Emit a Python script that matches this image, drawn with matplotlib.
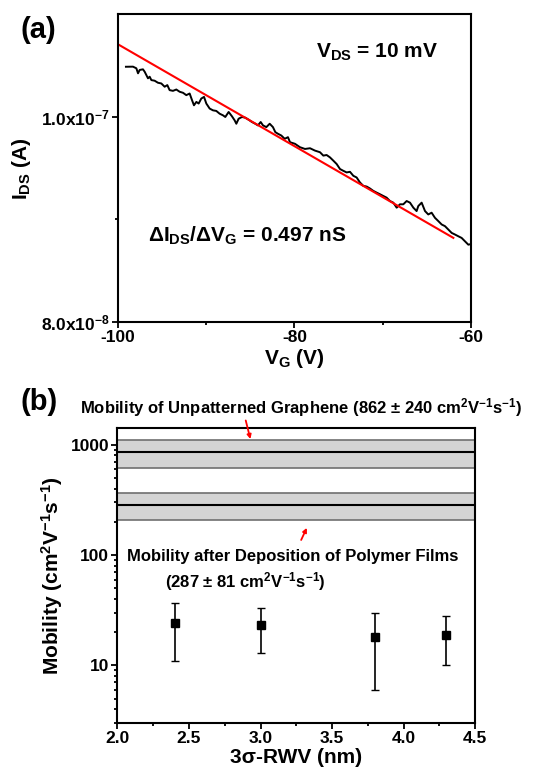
import matplotlib
matplotlib.use("Agg")
import matplotlib.pyplot as plt
import numpy as np
from matplotlib.ticker import FixedLocator, MultipleLocator, FuncFormatter, LogLocator, NullFormatter

plt.rcParams['font.family'] = ['Liberation Sans', 'DejaVu Sans']
plt.rcParams['font.weight'] = 'bold'
plt.rcParams['axes.labelweight'] = 'bold'
plt.rcParams['axes.unicode_minus'] = False
plt.rcParams['mathtext.fontset'] = 'custom'
plt.rcParams['mathtext.rm'] = 'Liberation Sans:bold'
plt.rcParams['mathtext.bf'] = 'Liberation Sans:bold'
plt.rcParams['mathtext.it'] = 'Liberation Sans:bold'
plt.rcParams['mathtext.sf'] = 'Liberation Sans:bold'
plt.rcParams['mathtext.default'] = 'bf'

# (a) transfer curve, I_DS in units of 1e-8 A
vg = [-99.10, -98.30, -97.92, -97.73, -97.54, -97.17, -96.98, -96.60, -96.41, -96.22,
      -95.85, -95.47, -95.09, -94.71, -94.41, -94.15, -93.77, -93.39, -93.01, -92.63,
      -92.26, -91.88, -91.61, -91.39, -91.12, -90.86, -90.56, -90.25, -89.99, -89.61,
      -89.24, -88.86, -88.48, -88.10, -87.84, -87.46, -87.08, -86.78, -86.59, -86.33,
      -85.95, -85.57, -85.19, -84.82, -84.44, -84.14, -83.83, -83.57, -83.19, -82.81,
      -82.44, -82.17, -81.87, -81.49, -81.11, -80.74,
      -80.51, -79.94, -79.38, -78.81, -78.24, -77.68, -77.11, -76.73, -76.36, -75.98,
      -75.60, -75.22, -74.84, -74.47, -74.09, -73.71, -73.33, -72.96, -72.58, -72.20,
      -71.82, -71.44, -71.07, -70.69, -70.31, -69.93, -69.56, -69.18, -68.80, -68.42,
      -68.05, -67.67, -67.29, -66.91, -66.53, -66.16, -65.97, -65.59, -65.21, -64.84,
      -64.46, -64.08, -63.70, -63.32, -62.95, -62.57, -62.19, -61.81, -61.43, -61.06,
      -60.68, -60.30, -60.00]
ids = [10.490, 10.491, 10.475, 10.426, 10.459, 10.465, 10.442, 10.377, 10.393, 10.360,
       10.354, 10.334, 10.327, 10.295, 10.311, 10.262, 10.255, 10.268, 10.246, 10.236,
       10.213, 10.229, 10.164, 10.114, 10.147, 10.131, 10.180, 10.196, 10.131, 10.082,
       10.065, 10.059, 10.032, 10.016, 10.000, 10.049, 10.006, 9.967, 9.934, 9.983,
       10.000, 9.993, 9.973, 9.951, 9.934, 9.918, 9.951, 9.918, 9.901, 9.934,
       9.901, 9.852, 9.836, 9.819, 9.787, 9.803,
       9.754, 9.738, 9.705, 9.688, 9.695, 9.672, 9.656, 9.623, 9.629, 9.606,
       9.574, 9.541, 9.492, 9.475, 9.459, 9.465, 9.426, 9.410, 9.361, 9.328,
       9.321, 9.302, 9.279, 9.262, 9.246, 9.229, 9.213, 9.180, 9.164, 9.115,
       9.148, 9.148, 9.180, 9.164, 9.115, 9.082, 9.131, 9.164, 9.082, 9.049,
       9.066, 9.016, 8.984, 8.951, 8.935, 8.902, 8.869, 8.853, 8.836, 8.820,
       8.787, 8.754, 8.760]
slope_ns = 0.497          # dI/dV in nS
fit_vg = [-100.0, -62.0]
fit_anchor = (-80.5, 9.74)   # (V, 1e-8 A)

# (b) mobility vs roughness
rwv = [2.4, 3.0, 3.8, 4.3]
mob = [24, 23, 18, 19]
mob_err = [13, 10, 12, 9]
unpat_mean, unpat_err = 862, 240
poly_mean, poly_err = 287, 81

fig = plt.figure(figsize=(5.46, 7.79), dpi=100)
ax1 = fig.add_axes([0.2161, 0.5867, 0.6465, 0.3947])
ax2 = fig.add_axes([0.2152, 0.0719, 0.6548, 0.3787])

for ax in (ax1, ax2):
    for s in ax.spines.values():
        s.set_linewidth(1.5)
    ax.tick_params(which='both', direction='out', top=False, right=False, width=1.3,
                   labelsize=12.5)
    ax.tick_params(which='major', length=4, pad=2)
    ax.tick_params(which='minor', length=2.5)

# ---- panel (a)
ax1.plot(np.array(vg), np.array(ids) * 1e-8, color='black', lw=1.4)
fv = np.array(fit_vg)
fi = (fit_anchor[1] * 1e-8) - slope_ns * 1e-9 * (fv - fit_anchor[0])
ax1.plot(fv, fi, color='red', lw=1.5)
ax1.set_xlim(-100, -60)
ax1.set_ylim(8e-8, 1.1e-7)
ax1.xaxis.set_major_locator(MultipleLocator(20))
ax1.xaxis.set_minor_locator(MultipleLocator(10))
ax1.yaxis.set_major_locator(FixedLocator([8e-8, 1e-7]))
ax1.yaxis.set_minor_locator(FixedLocator([9e-8]))


def sci(v, pos):
    e = int(np.floor(np.log10(v)))
    m = v / 10 ** e
    return r'%.1fx10$^{%d}$' % (m, e)


ax1.yaxis.set_major_formatter(FuncFormatter(sci))
ax1.set_xlabel(r'V$_G$ (V)', fontsize=15, labelpad=1)
ax1.set_ylabel(r'I$_{DS}$ (A)', fontsize=15, labelpad=6)
ax1.text(0.56, 0.86, r'V$_{DS}$ = 10 mV', transform=ax1.transAxes, fontsize=15)
ax1.text(0.085, 0.26, r'ΔI$_{DS}$/ΔV$_G$ = %.3f nS' % slope_ns, transform=ax1.transAxes,
         fontsize=15)
fig.text(20 / 546, 1 - 30 / 779, '(a)', fontsize=21, va='center')

# ---- panel (b)
ax2.set_yscale('log')
ax2.set_xlim(2.0, 4.5)
ax2.set_ylim(3, 1420)
for m, e in ((unpat_mean, unpat_err), (poly_mean, poly_err)):
    ax2.axhspan(m - e, m + e, facecolor='#d4d4d4', edgecolor='#707070', lw=1.2)
    ax2.axhline(m, color='black', lw=1.5)
ax2.errorbar(rwv, mob, yerr=mob_err, fmt='s', color='black', ms=6, capsize=3,
             elinewidth=1.2, capthick=1.0)
ax2.xaxis.set_major_locator(MultipleLocator(0.5))
ax2.xaxis.set_minor_locator(MultipleLocator(0.25))
ax2.xaxis.set_major_formatter(FuncFormatter(lambda v, p: '%.1f' % v))
ax2.yaxis.set_major_locator(FixedLocator([10, 100, 1000]))
ax2.yaxis.set_major_formatter(FuncFormatter(lambda v, p: '%d' % v))
ax2.yaxis.set_minor_locator(LogLocator(base=10, subs=np.arange(2, 10)))
ax2.yaxis.set_minor_formatter(NullFormatter())
ax2.set_xlabel('3σ-RWV (nm)', fontsize=15, labelpad=1)
ax2.set_ylabel(r'Mobility (cm$^2$V$^{-1}$s$^{-1}$)', fontsize=15, labelpad=4)

ax2.annotate('', xy=(2.934, 1065), xytext=(2.892, 1758), annotation_clip=False,
             arrowprops=dict(arrowstyle='-|>', color='red', lw=1.3, mutation_scale=6))
ax2.annotate('', xy=(3.332, 186), xytext=(3.276, 130), annotation_clip=False,
             arrowprops=dict(arrowstyle='-|>', color='red', lw=1.3, mutation_scale=6))

fig.text(80 / 546, 1 - 408 / 779,
         r'Mobility of Unpatterned Graphene (%d ± %d cm$^2$V$^{-1}$s$^{-1}$)'
         % (unpat_mean, unpat_err), fontsize=12, va='center')
fig.text(127 / 546, 1 - 556 / 779, 'Mobility after Deposition of Polymer Films',
         fontsize=12, va='center')
fig.text(165 / 546, 1 - 582 / 779,
         r'(%d ± %d cm$^2$V$^{-1}$s$^{-1}$)' % (poly_mean, poly_err),
         fontsize=12, va='center')
fig.text(20 / 546, 1 - 402 / 779, '(b)', fontsize=21, va='center')

fig.savefig('out.png', dpi=100)
